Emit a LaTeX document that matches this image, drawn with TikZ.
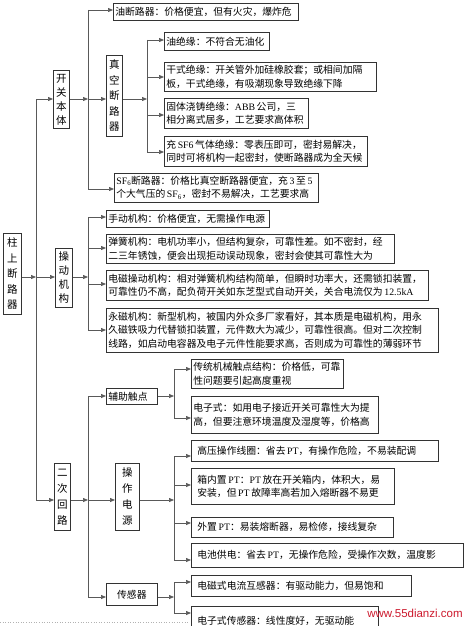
\documentclass[tikz,border=0pt]{standalone}
\usepackage{fontspec}
\setmainfont{Noto Sans CJK SC}
\newfontfamily\latf{Liberation Serif}
\newfontfamily\wmf{Liberation Sans}
\usetikzlibrary{arrows.meta}
\newcommand\lat[1]{{\latf #1}}
\definecolor{wmc}{RGB}{205,25,45}
\tikzset{
 ln/.style={draw=black!65, line width=0.7pt},
 arr/.style={ln, -{Triangle[length=5pt,width=4pt]}},
 box/.style={draw=black!80, line width=0.7pt, anchor=north west, align=left, inner xsep=2pt, inner ysep=0pt, font=\fontsize{9.8}{13.5}\selectfont},
 boxw/.style={box, inner xsep=6pt},
 vbox/.style={draw=black!80, line width=0.7pt, anchor=north west, align=center, inner sep=0pt},
}
\begin{document}
\begin{tikzpicture}[x=1pt,y=-1pt]
\useasboundingbox (0,0) rectangle (465,626);
\clip (0,0) rectangle (465,626);
\fill[white] (0,0) rectangle (465,626);

% level 0 / 1
\node[vbox, minimum width=18pt, minimum height=81pt, font=\fontsize{10.5}{15.5}\selectfont] (R) at (3,233) {柱\\上\\断\\路\\器};
\node[vbox, minimum width=16pt, minimum height=58pt, font=\fontsize{10.5}{14}\selectfont] (A) at (53,70) {开\\关\\本\\体};
\node[vbox, minimum width=17pt, minimum height=59pt, font=\fontsize{10.5}{14}\selectfont] (B) at (55,248) {操\\动\\机\\构};
\node[vbox, minimum width=16pt, minimum height=67pt, font=\fontsize{10.5}{16}\selectfont] (C) at (54,463) {二\\次\\回\\路};

% group A
\node[box, text width=181pt, minimum height=17pt] (A1) at (113,3) {油断路器：价格便宜，但有火灾，爆炸危};
\node[vbox, minimum width=16pt, minimum height=81pt, font=\fontsize{10.5}{15.5}\selectfont] (A2) at (106,55) {真\\空\\断\\路\\器};
\node[box, text width=200pt, minimum height=29pt] (A3) at (114,173) {\lat{SF\textsubscript{6}}断路器：价格比真空断路器便宜，充\,\lat{3}\,至\,\lat{5}\\个大气压的\,\lat{SF\textsubscript{6}}，密封不易解决，工艺要求高};

% group A2
\node[box, text width=101pt, minimum height=18pt] (A2a) at (164,32) {油绝缘：不符合无油化};
\node[box, text width=208pt, minimum height=29pt] (A2b) at (164,62) {干式绝缘：开关管外加硅橡胶套；或相间加隔\\板，干式绝缘，有吸潮现象导致绝缘下降};
\node[box, text width=140pt, minimum height=30pt] (A2c) at (164,98) {固体浇铸绝缘：\lat{ABB}\,公司，三\\相分离式居多，工艺要求高体积};
\node[box, text width=199pt, minimum height=30pt] (A2d) at (164,136) {充\,\lat{SF6}\,气体绝缘：零表压即可，密封易解决，\\同时可将机构一起密封，使断路器成为全天候};

% group B
\node[box, text width=159pt, minimum height=17pt] (B1) at (106,210) {手动机构：价格便宜，无需操作电源};
\node[box, text width=284pt, minimum height=29pt] (B2) at (106,234) {弹簧机构：电机功率小，但结构复杂，可靠性差。如不密封，经\\二三年锈蚀，便会出现拒动误动现象，密封会使其可靠性大为};
\node[box, text width=318pt, minimum height=30pt] (B3) at (106,270) {电磁操动机构：相对弹簧机构结构简单，但瞬时功率大，还需锁扣装置，\\可靠性仍不高，配负荷开关如东芝型式自动开关，关合电流仅为\,\lat{12.5kA}};
\node[box, text width=328pt, minimum height=44pt] (B4) at (106,308) {永磁机构：新型机构，被国内外众多厂家看好，其本质是电磁机构，用永\\久磁铁吸力代替锁扣装置，元件数大为减少，可靠性很高。但对二次控制\\线路，如启动电容器及电子元件性能要求高，否则成为可靠性的薄弱环节};

% group C
\node[box, text width=47pt, minimum height=16pt] (C1) at (106,388) {辅助触点};
\node[vbox, minimum width=24pt, minimum height=67pt, font=\fontsize{10.5}{16}\selectfont] (C2) at (115,463) {操\\作\\电\\源};
\node[box, align=center, text width=47pt, minimum height=22pt] (C3) at (106,583) {传感器};

\node[box, text width=148pt, minimum height=29pt] (C1a) at (191,359) {传统机械触点结构：价格低，可靠\\性问题要引起高度重视};
\node[box, text width=183pt, minimum height=37pt] (C1b) at (191,396) {电子式：如用电子接近开关可靠性大为提\\高，但要注意环境温度及湿度等，价格高};

\node[boxw, text width=235pt, minimum height=21pt] (C2a) at (191,440) {高压操作线圈：省去\,\lat{PT}，有操作危险，不易装配调};
\node[boxw, text width=191pt, minimum height=36pt] (C2b) at (191,468) {箱内置\,\lat{PT}：\lat{PT}\,放在开关箱内，体积大，易\\安装，但\,\lat{PT}\,故障率高若加入熔断器不易更};
\node[boxw, text width=190pt, minimum height=20pt] (C2c) at (191,517) {外置\,\lat{PT}：易装熔断器，易检修，接线复杂};
\node[boxw, text width=260pt, minimum height=24pt] (C2d) at (191,543) {电池供电：省去\,\lat{PT}，无操作危险，受操作次数，温度影};

\node[boxw, text width=208pt, minimum height=21pt] (C3a) at (191,575) {电磁式电流互感器：有驱动能力，但易饱和};
\node[boxw, text width=175pt, minimum height=30pt] (C3b) at (191,606) {电子式传感器：线性度好，无驱动能};

% trunk 0
\coordinate (t0a) at (36,99);
\coordinate (t0b) at (36,277);
\coordinate (t0c) at (36,500);
\draw[ln] (t0a) -- (t0c);
\draw[arr] (R.east |- t0b) -- (t0b);
\draw[arr] (t0a) -- (t0a -| A.west);
\draw[arr] (t0b) -- (t0b -| B.west);
\draw[arr] (t0c) -- (t0c -| C.west);

% trunk A
\coordinate (a0) at (88,99);
\coordinate (a1) at (88,10);
\coordinate (a3) at (88,189);
\draw[ln] (a1) -- (a3);
\draw[arr] (A.east |- a0) -- (a0);
\draw[arr] (a1) -- (a1 -| A1.west);
\draw[arr] (a0) -- (a0 -| A2.west);
\draw[arr] (a3) -- (a3 -| A3.west);

% trunk A2
\coordinate (v0) at (147,99);
\coordinate (v1) at (147,40);
\coordinate (v2) at (147,77);
\coordinate (v3) at (147,115);
\coordinate (v4) at (147,152);
\draw[ln] (v1) -- (v4);
\draw[arr] (A2.east |- v0) -- (v0);
\draw[arr] (v1) -- (v1 -| A2a.west);
\draw[arr] (v2) -- (v2 -| A2b.west);
\draw[arr] (v3) -- (v3 -| A2c.west);
\draw[arr] (v4) -- (v4 -| A2d.west);

% trunk B
\coordinate (b0) at (88,277);
\coordinate (b1) at (88,217);
\coordinate (b2) at (88,248);
\coordinate (b3) at (88,284);
\coordinate (b4) at (88,330);
\draw[ln] (b1) -- (b4);
\draw[arr] (B.east |- b0) -- (b0);
\draw[arr] (b1) -- (b1 -| B1.west);
\draw[arr] (b2) -- (b2 -| B2.west);
\draw[arr] (b3) -- (b3 -| B3.west);
\draw[arr] (b4) -- (b4 -| B4.west);

% trunk C
\coordinate (c1) at (88,396);
\coordinate (c2) at (88,500);
\coordinate (c3) at (88,597);
\draw[ln] (c1) -- (c3);
\draw[arr] (C.east |- c2) -- (c2);
\draw[arr] (c1) -- (c1 -| C1.west);
\draw[arr] (c2) -- (c2 -| C2.west);
\draw[arr] (c3) -- (c3 -| C3.west);

% trunk C1
\coordinate (d0) at (174,396);
\coordinate (d1) at (174,369);
\coordinate (d2) at (174,418);
\draw[ln] (d1) -- (d2);
\draw[arr] (C1.east |- d0) -- (d0);
\draw[arr] (d1) -- (d1 -| C1a.west);
\draw[arr] (d2) -- (d2 -| C1b.west);

% trunk C2
\coordinate (e0) at (174,500);
\coordinate (e1) at (174,456);
\coordinate (e2) at (174,485);
\coordinate (e3) at (174,523);
\coordinate (e4) at (174,560);
\draw[ln] (e1) -- (e4);
\draw[arr] (C2.east |- e0) -- (e0);
\draw[arr] (e1) -- (e1 -| C2a.west);
\draw[arr] (e2) -- (e2 -| C2b.west);
\draw[arr] (e3) -- (e3 -| C2c.west);
\draw[arr] (e4) -- (e4 -| C2d.west);

% trunk C3
\coordinate (f0) at (174,597);
\coordinate (f1) at (174,582);
\coordinate (f2) at (174,613);
\draw[ln] (f1) -- (f2);
\draw[arr] (C3.east |- f0) -- (f0);
\draw[arr] (f1) -- (f1 -| C3a.west);
\draw[arr] (f2) -- (f2 -| C3b.west);

% page edge and watermark
\coordinate (pe1) at (0,622);
\coordinate (pe2) at (188,622);
\draw[black!30, dotted, line width=0.6pt] (pe1) -- (pe2);
\node[font=\wmf\fontsize{11.5}{11.5}\selectfont, text=wmc, inner sep=0pt] (wm) at (415,613) {www.55dianzi.com};
\end{tikzpicture}
\end{document}
